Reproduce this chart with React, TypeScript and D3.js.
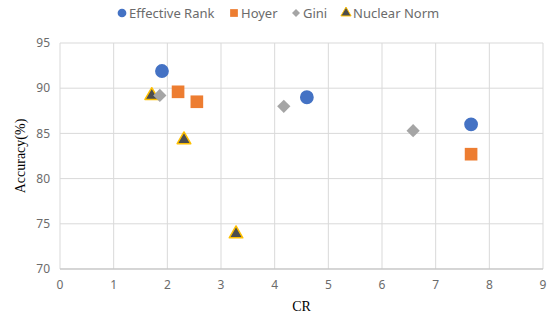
import { useEffect, useRef } from 'react';
import * as d3 from 'd3';

// values
const seriesNames = ["Effective Rank", "Hoyer", "Gini", "Nuclear Norm"];
const effectiveRankCR = [1.9, 4.6, 7.66];
const effectiveRankAcc = [91.9, 89.0, 86.0];
const hoyerCR = [2.2, 2.55, 7.66];
const hoyerAcc = [89.6, 88.5, 82.7];
const giniCR = [1.86, 4.17, 6.58];
const giniAcc = [89.2, 88.0, 85.3];
const nuclearCR = [1.71, 2.31, 3.28];
const nuclearAcc = [89.3, 84.4, 74.0];
const xTicks = [0, 1, 2, 3, 4, 5, 6, 7, 8, 9];
const yTicks = [70, 75, 80, 85, 90, 95];

const App = () => {
  const svgRef = useRef(null);

  useEffect(() => {
    if (!svgRef.current) return;
    const svg = d3.select(svgRef.current);
    svg.selectAll("*").remove();

    const margin = { top: 43, right: 6, bottom: 47, left: 60 };
    const W = 549, H = 316;
    const width = W - margin.left - margin.right;
    const height = H - margin.top - margin.bottom;
    const sans = "'Noto Sans', 'DejaVu Sans', sans-serif";

    const x = d3.scaleLinear().domain([0, 9]).range([0, width]);
    const y = d3.scaleLinear().domain([70, 95]).range([height, 0]);

    const g = svg.append("g").attr("transform", `translate(${margin.left},${margin.top})`);

    // grid
    g.selectAll(".hgrid").data(yTicks).enter().append("line")
      .attr("x1", 0).attr("x2", width)
      .attr("y1", d => y(d)).attr("y2", d => y(d))
      .attr("stroke", "#d9d9d9").attr("stroke-width", 1);
    g.selectAll(".vgrid").data(xTicks).enter().append("line")
      .attr("x1", d => x(d)).attr("x2", d => x(d))
      .attr("y1", 0).attr("y2", height)
      .attr("stroke", "#d9d9d9").attr("stroke-width", 1);
    g.append("line").attr("x1", 0).attr("x2", width).attr("y1", height).attr("y2", height)
      .attr("stroke", "#bfbfbf");

    // tick labels
    g.selectAll(".ylab").data(yTicks).enter().append("text")
      .attr("x", -10).attr("y", d => y(d)).attr("dy", "0.35em")
      .attr("text-anchor", "end").attr("font-family", sans).attr("font-size", 12)
      .attr("fill", "#6b6b6b").text(d => d);
    g.selectAll(".xlab").data(xTicks).enter().append("text")
      .attr("x", d => x(d)).attr("y", height + 20)
      .attr("text-anchor", "middle").attr("font-family", sans).attr("font-size", 12)
      .attr("fill", "#6b6b6b").text(d => d);

    // axis titles
    svg.append("text").attr("x", margin.left + width / 2).attr("y", 311)
      .attr("text-anchor", "middle").attr("font-family", "'Liberation Serif', serif")
      .attr("font-size", 14).attr("fill", "#000").text("CR");
    svg.append("text")
      .attr("transform", `translate(25,${margin.top + height / 2}) rotate(-90)`)
      .attr("text-anchor", "middle").attr("font-family", "'Liberation Serif', serif")
      .attr("font-size", 14).attr("fill", "#000").text("Accuracy(%)");

    // gini diamond = square turned 45 degrees
    const symbols = [
      { type: d3.symbolCircle, size: 150, fill: "#4472c4", stroke: "none", rot: 0 },
      { type: d3.symbolSquare, size: 160, fill: "#ed7d31", stroke: "none", rot: 0 },
      { type: d3.symbolSquare, size: 88, fill: "#a5a5a5", stroke: "none", rot: 45 },
      { type: d3.symbolTriangle, size: 80, fill: "#4d4d4d", stroke: "#ffc000", rot: 0 },
    ];
    const xs = [effectiveRankCR, hoyerCR, giniCR, nuclearCR];
    const ys = [effectiveRankAcc, hoyerAcc, giniAcc, nuclearAcc];

    // draw in reverse so circles sit on top like the reference
    [3, 2, 1, 0].forEach(i => {
      const s = symbols[i];
      const pts = xs[i].map((v, j) => ({ cr: v, acc: ys[i][j] }));
      g.selectAll(".pt" + i).data(pts).enter().append("path")
        .attr("transform", d => `translate(${x(d.cr)},${y(d.acc) + (i === 3 ? 1 : 0)}) rotate(${s.rot})`)
        .attr("d", d3.symbol().type(s.type).size(s.size)()!)
        .attr("fill", s.fill)
        .attr("stroke", s.stroke).attr("stroke-width", 1.5).attr("stroke-linejoin", "round");
    });

    // legend
    const legendX = [122, 234, 296, 346];
    const legendSizes = [60, 60, 32, 45];
    const lg = svg.append("g");
    seriesNames.forEach((name, i) => {
      const s = symbols[i];
      lg.append("path")
        .attr("transform", `translate(${legendX[i]},13) rotate(${s.rot})`)
        .attr("d", d3.symbol().type(s.type).size(legendSizes[i])()!)
        .attr("fill", s.fill).attr("stroke", s.stroke).attr("stroke-width", 1);
      lg.append("text").attr("x", legendX[i] + 7).attr("y", 13).attr("dy", "0.35em")
        .attr("font-family", sans).attr("font-size", 13).attr("fill", "#6b6b6b").text(name);
    });
  }, []);

  return (
    <svg ref={svgRef} width={549} height={316} style={{ position: "absolute", left: 0, top: 0, background: "#fff" }}></svg>
  );
};

export default App;
